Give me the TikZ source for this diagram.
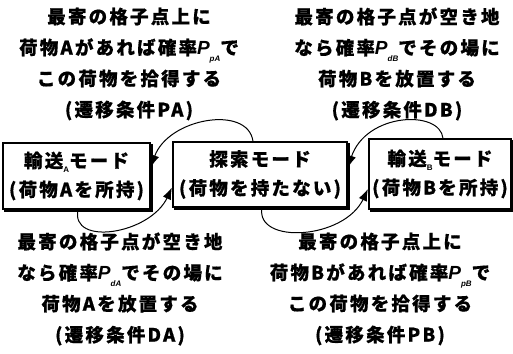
\documentclass[tikz,border=0pt]{standalone}
\usepackage{fontspec}
\setmainfont{Noto Sans CJK JP}[FakeBold=0.6]
\newfontfamily\lsans{Liberation Sans}
\usetikzlibrary{arrows.meta}
\newcommand{\subsc}[1]{\raisebox{-5pt}{\lsans\bfseries\fontsize{8}{8}\selectfont #1}}
\newcommand{\Pv}[1]{{\lsans\bfseries\itshape\fontsize{19}{19}\selectfont P}\raisebox{-7pt}{\lsans\bfseries\itshape\fontsize{8}{8}\selectfont #1}}
\begin{document}
\begin{tikzpicture}[x=1pt,y=-1pt,
  modebox/.style={draw=black, line width=1.3pt, inner sep=0pt, align=center,
    font=\bfseries\fontsize{18.5}{29}\selectfont\addfontfeature{LetterSpace=12}},
  shadowline/.style={draw=black, line width=2pt, line cap=rect},
  desc/.style={align=center, inner sep=0pt,
    font=\bfseries\fontsize{18.5}{31}\selectfont\addfontfeature{LetterSpace=12}},
  trans/.style={color=black, line width=1pt,
    -{Latex[length=13pt,width=9pt,line width=4pt,fill=black,color=black]}}]
\useasboundingbox (0,0) rectangle (513,353);
\node[modebox, minimum width=147pt, minimum height=66pt] (ta) at (76.5,176) {輸送\subsc{A}モード\\(荷物Aを所持)};
\node[modebox, minimum width=174pt, minimum height=65pt] (se) at (260,174.5) {探索モード\\(荷物を持たない)};
\node[modebox, minimum width=142pt, minimum height=70pt] (tb) at (440,174) {輸送\subsc{B}モード\\(荷物Bを所持)};
\draw[shadowline] ([shift={(1.6pt,-2.5pt)}]ta.north east) -- ([shift={(1.6pt,-1.6pt)}]ta.south east) -- ([shift={(2.5pt,-1.6pt)}]ta.south west);
\draw[shadowline] ([shift={(1.6pt,-2.5pt)}]se.north east) -- ([shift={(1.6pt,-1.6pt)}]se.south east) -- ([shift={(2.5pt,-1.6pt)}]se.south west);
\draw[shadowline] ([shift={(1.0pt,-2.5pt)}]tb.north east) -- ([shift={(1.0pt,-1.6pt)}]tb.south east) -- ([shift={(2.5pt,-1.6pt)}]tb.south west);
\node[desc] (pa) at (129,64) {最寄の格子点上に\\荷物Aがあれば確率\Pv{pA}で\\この荷物を拾得する\\(遷移条件PA)};
\node[desc] (db) at (397,64) {最寄の格子点が空き地\\なら確率\Pv{dB}でその場に\\荷物Bを放置する\\(遷移条件DB)};
\node[desc] (da) at (120,289) {最寄の格子点が空き地\\なら確率\Pv{dA}でその場に\\荷物Aを放置する\\(遷移条件DA)};
\node[desc] (pb) at (380,289) {最寄の格子点上に\\荷物Bがあれば確率\Pv{pB}で\\この荷物を拾得する\\(遷移条件PB)};
\draw[trans] ([xshift=-7pt]se.north) .. controls +(-5,-37) and +(17,-50) .. ([yshift=8pt]ta.east);
\draw[trans] ([xshift=1.5pt]ta.south) .. controls +(-8,37) and +(-22,48) .. ([yshift=-12pt]se.west);
\draw[trans] ([xshift=3pt]tb.north) .. controls +(-3,-29) and +(18,-56) .. ([yshift=6pt]se.east);
\draw[trans] ([xshift=2pt]se.south) .. controls +(-7,37) and +(-24,52) .. ([yshift=-14pt]tb.west);
\end{tikzpicture}
\end{document}
